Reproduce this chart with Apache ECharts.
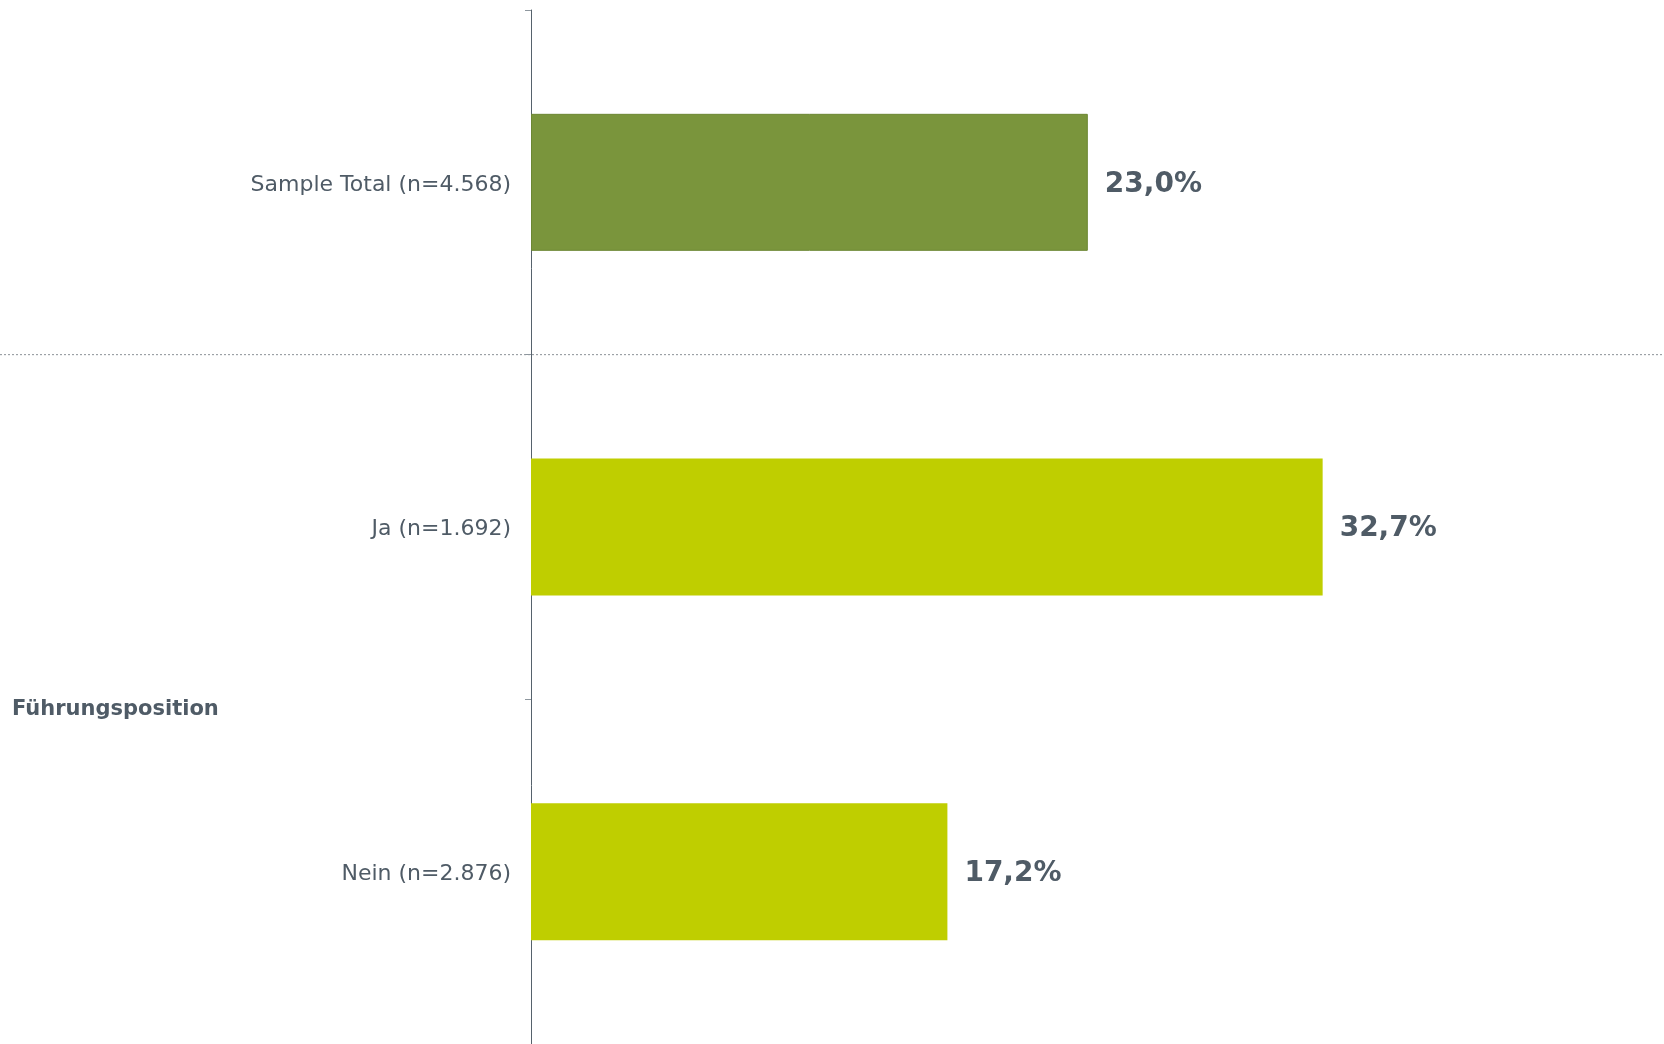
<!DOCTYPE html>
<html>
<head>
<meta charset="utf-8">
<script src="https://cdn.jsdelivr.net/npm/echarts@6/dist/echarts.min.js"></script>
<style>
html,body{margin:0;padding:0;background:#fff;}
#main{width:1664px;height:1044px;}
</style>
</head>
<body>
<div id="main"></div>
<script>
const categories = ['Sample Total (n=4.568)', 'Ja (n=1.692)', 'Nein (n=2.876)'];
const values = [23.0, 32.7, 17.2];
const barColors = ['#7A953C', '#BFCE00', '#BFCE00'];
const groupLabel = 'Führungsposition';

const textColor = '#4F5B66';
const font = '"DejaVu Sans", Verdana, sans-serif';

const chart = echarts.init(document.getElementById('main'), null, {renderer: 'canvas'});
chart.setOption({
  animation: false,
  backgroundColor: '#fff',
  grid: {left: 531, right: 0, top: 10, bottom: 0, containLabel: false},
  xAxis: {type: 'value', min: 0, max: 46.8, show: false},
  yAxis: {
    type: 'category',
    data: categories,
    inverse: true,
    axisLine: {show: true, lineStyle: {color: '#56626C', width: 1}},
    axisTick: {show: true, length: 6, lineStyle: {color: '#8E979E', width: 1}},
    axisLabel: {color: textColor, fontSize: 22, fontFamily: font, margin: 20,
      formatter: v => '{a|' + v + '}',
      rich: {a: {color: textColor, fontSize: 22, fontFamily: font, padding: [5, 0, 0, 0]}}},
    splitLine: {show: false}
  },
  series: [{
    type: 'bar',
    barWidth: 137,
    data: values.map((v, i) => ({
      value: v,
      itemStyle: {color: barColors[i], borderColor: i === 0 ? '#6C8733' : barColors[i], borderWidth: i === 0 ? 1 : 0}
    })),
    label: {
      show: true,
      position: 'right',
      distance: 17,
      offset: [0, 2],
      color: textColor,
      fontSize: 28,
      fontWeight: 'bold',
      fontFamily: font,
      formatter: p => p.value.toFixed(1).replace('.', ',') + '%'
    }
  }]
});

const c0 = chart.convertToPixel({yAxisIndex: 0}, categories[0]);
const c1 = chart.convertToPixel({yAxisIndex: 0}, categories[1]);
const c2 = chart.convertToPixel({yAxisIndex: 0}, categories[2]);
const sepY = (c0 + c1) / 2;
const groupY = (c1 + c2) / 2;
chart.setOption({
  graphic: [
    {type: 'line', z: 0, shape: {x1: 0, y1: sepY, x2: 1664, y2: sepY},
     style: {stroke: '#8A9096', lineWidth: 1, lineDash: [2, 2]}},
    {type: 'text', left: 12, top: groupY,
     style: {text: groupLabel, fill: textColor, fontSize: 21, fontWeight: 'bold', fontFamily: font}}
  ]
});
</script>
</body>
</html>
